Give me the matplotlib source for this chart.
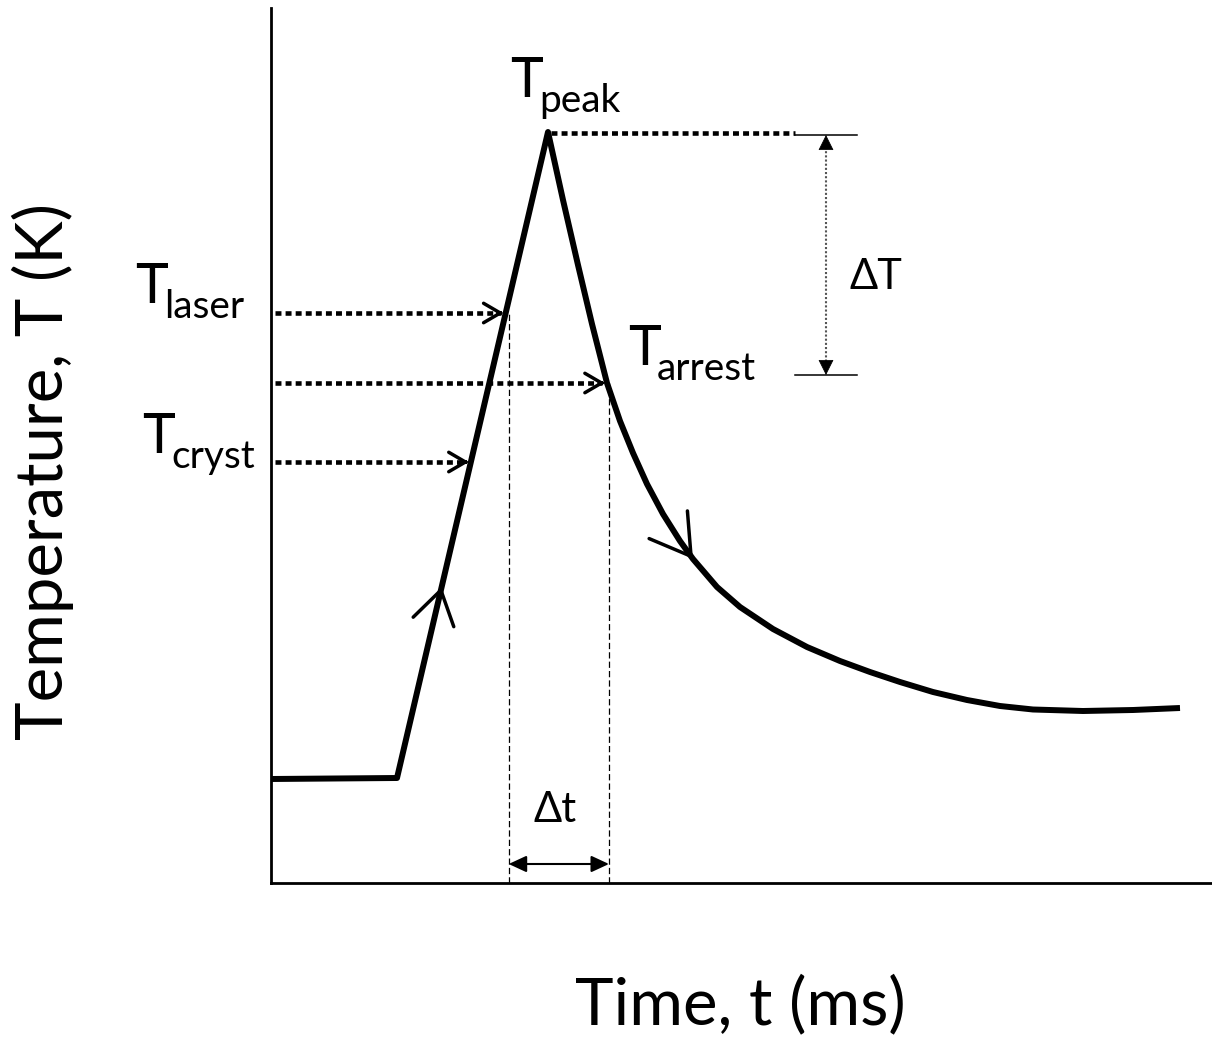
import numpy as np
import matplotlib
matplotlib.use('Agg')
import matplotlib.pyplot as plt

plt.rcParams['font.family'] = ['Lato', 'DejaVu Sans']

# Schematic temperature history (arbitrary units)
t_curve = [0.00, 1.26, 2.77, 2.92, 3.07, 3.21, 3.36, 3.49, 3.62, 3.76,
           3.92, 4.09, 4.22, 4.46, 4.69, 5.02, 5.36, 5.69, 5.99, 6.29,
           6.62, 6.96, 7.29, 7.62, 8.12, 8.62, 9.09]
T_curve = [1.04, 1.05, 7.51, 6.83, 6.18, 5.59, 5.00, 4.62, 4.30, 3.99,
           3.69, 3.42, 3.24, 2.96, 2.76, 2.54, 2.36, 2.22, 2.11, 2.01,
           1.91, 1.83, 1.77, 1.735, 1.72, 1.73, 1.75]

# characteristic temperature levels
T_peak = 7.51
T_laser = 5.70
T_arrest = 5.00
T_cryst = 4.21

# where the direction marks sit on the curve
T_rise_mark = 2.96
decay_mark_idx = 12


def rise_time(T):
    # heating branch is a straight ramp between points 1 and 2
    return np.interp(T, T_curve[1:3], t_curve[1:3])


def decay_time(T):
    tt = np.array(t_curve[2:13])[::-1]
    TT = np.array(T_curve[2:13])[::-1]
    return np.interp(T, TT, tt)


def dotted(ax, xs, ys, lw=3.3):
    ax.plot(xs, ys, color='black', lw=lw, dashes=(1.3, 0.9),
            dash_capstyle='butt')


def open_head(ax, tip, tail, length, width, lw=2.5):
    ax.annotate('', xy=tip, xytext=tail, annotation_clip=False,
                arrowprops=dict(arrowstyle=f'->,head_length={length},head_width={width}',
                                lw=lw, color='black', shrinkA=0, shrinkB=0,
                                mutation_scale=10))


def solid_head(ax, tip, tail, length, width, lw=1.2):
    ax.annotate('', xy=tip, xytext=tail, annotation_clip=False,
                arrowprops=dict(arrowstyle=f'-|>,head_length={length},head_width={width}',
                                lw=lw, color='black', shrinkA=0, shrinkB=0,
                                mutation_scale=10))


def label_T(ax, x, y, sub):
    ax.text(x, y, 'T', fontsize=40, ha='left', va='baseline')
    ax.annotate(sub, xy=(x, y), xytext=(21, -11), textcoords='offset points',
                fontsize=28, ha='left', va='baseline', annotation_clip=False)


fig = plt.figure(figsize=(12.12, 10.40), dpi=100)
ax = fig.add_axes([271 / 1212, 157 / 1040, 941 / 1212, 875 / 1040])
ax.set_xlim(0, 9.41)
ax.set_ylim(0, 8.75)
ax.set_xticks([])
ax.set_yticks([])
for side in ('top', 'right'):
    ax.spines[side].set_visible(False)
for side in ('left', 'bottom'):
    ax.spines[side].set_linewidth(2.0)

# main curve
ax.plot(t_curve, T_curve, color='black', lw=4.3, solid_joinstyle='round',
        solid_capstyle='butt')

# direction marks
t_r = rise_time(T_rise_mark)
open_head(ax, (t_r, T_rise_mark), (rise_time(T_rise_mark - 0.3), T_rise_mark - 0.3),
          2.35, 1.5)
open_head(ax, (t_curve[decay_mark_idx], T_curve[decay_mark_idx]),
          (t_curve[decay_mark_idx - 1], T_curve[decay_mark_idx - 1]), 2.8, 1.7)

# T_laser, T_arrest, T_cryst arrows
t_las = rise_time(T_laser)
t_cry = rise_time(T_cryst)
t_arr = decay_time(T_arrest)
for T, tx in [(T_laser, t_las - 0.02), (T_arrest, t_arr - 0.02), (T_cryst, t_cry - 0.02)]:
    dotted(ax, [0.04, tx - 0.03], [T, T])
    open_head(ax, (tx, T), (tx - 0.06, T), 1.2, 0.7)

# peak level and delta T
dT_left, dT_right, dT_x = 5.24, 5.86, 5.55
dT_top, dT_bot = T_peak - 0.03, T_arrest + 0.08
dotted(ax, [rise_time(T_peak) + 0.03, dT_left], [T_peak - 0.01, T_peak - 0.01])
ax.plot([dT_left, dT_right], [dT_top, dT_top], color='black', lw=1.1)
ax.plot([dT_left, dT_right], [dT_bot, dT_bot], color='black', lw=1.1)
ax.plot([dT_x, dT_x], [dT_top - 0.12, dT_bot + 0.12], color='#555555', lw=1.5,
        dashes=(1, 1))
solid_head(ax, (dT_x, dT_top), (dT_x, dT_top - 0.14), 1.0, 0.5, lw=0.5)
solid_head(ax, (dT_x, dT_bot), (dT_x, dT_bot + 0.14), 1.0, 0.5, lw=0.5)
ax.text(6.05, 6.06, 'ΔT', fontsize=30, ha='center', va='center')

# delta t between T_laser and T_arrest
x1, x2 = t_las + 0.03, t_arr + 0.02
ax.plot([x1, x1], [0, T_laser], color='black', lw=0.9, dashes=(5, 2.5))
ax.plot([x2, x2], [0, T_arrest], color='black', lw=0.9, dashes=(5, 2.5))
ax.annotate('', xy=(x2, 0.19), xytext=(x1, 0.19),
            arrowprops=dict(arrowstyle='<|-|>,head_length=1.08,head_width=0.5',
                            lw=1.5, color='black', shrinkA=0, shrinkB=0,
                            mutation_scale=10))
ax.text(2.84, 0.73, 'Δt', fontsize=30, ha='center', va='center')

label_T(ax, 2.39, 7.86, 'peak')
label_T(ax, -1.36, 5.80, 'laser')
label_T(ax, -1.29, 4.30, 'cryst')
label_T(ax, 3.57, 5.18, 'arrest')

fig.text(740 / 1212, 1 - 1005 / 1040, 'Time, t (ms)', fontsize=47,
         ha='center', va='center')
fig.text(43 / 1212, 1 - 472 / 1040, 'Temperature, T (K)', fontsize=47,
         ha='center', va='center', rotation=90)

fig.savefig('out.png', dpi=100)
